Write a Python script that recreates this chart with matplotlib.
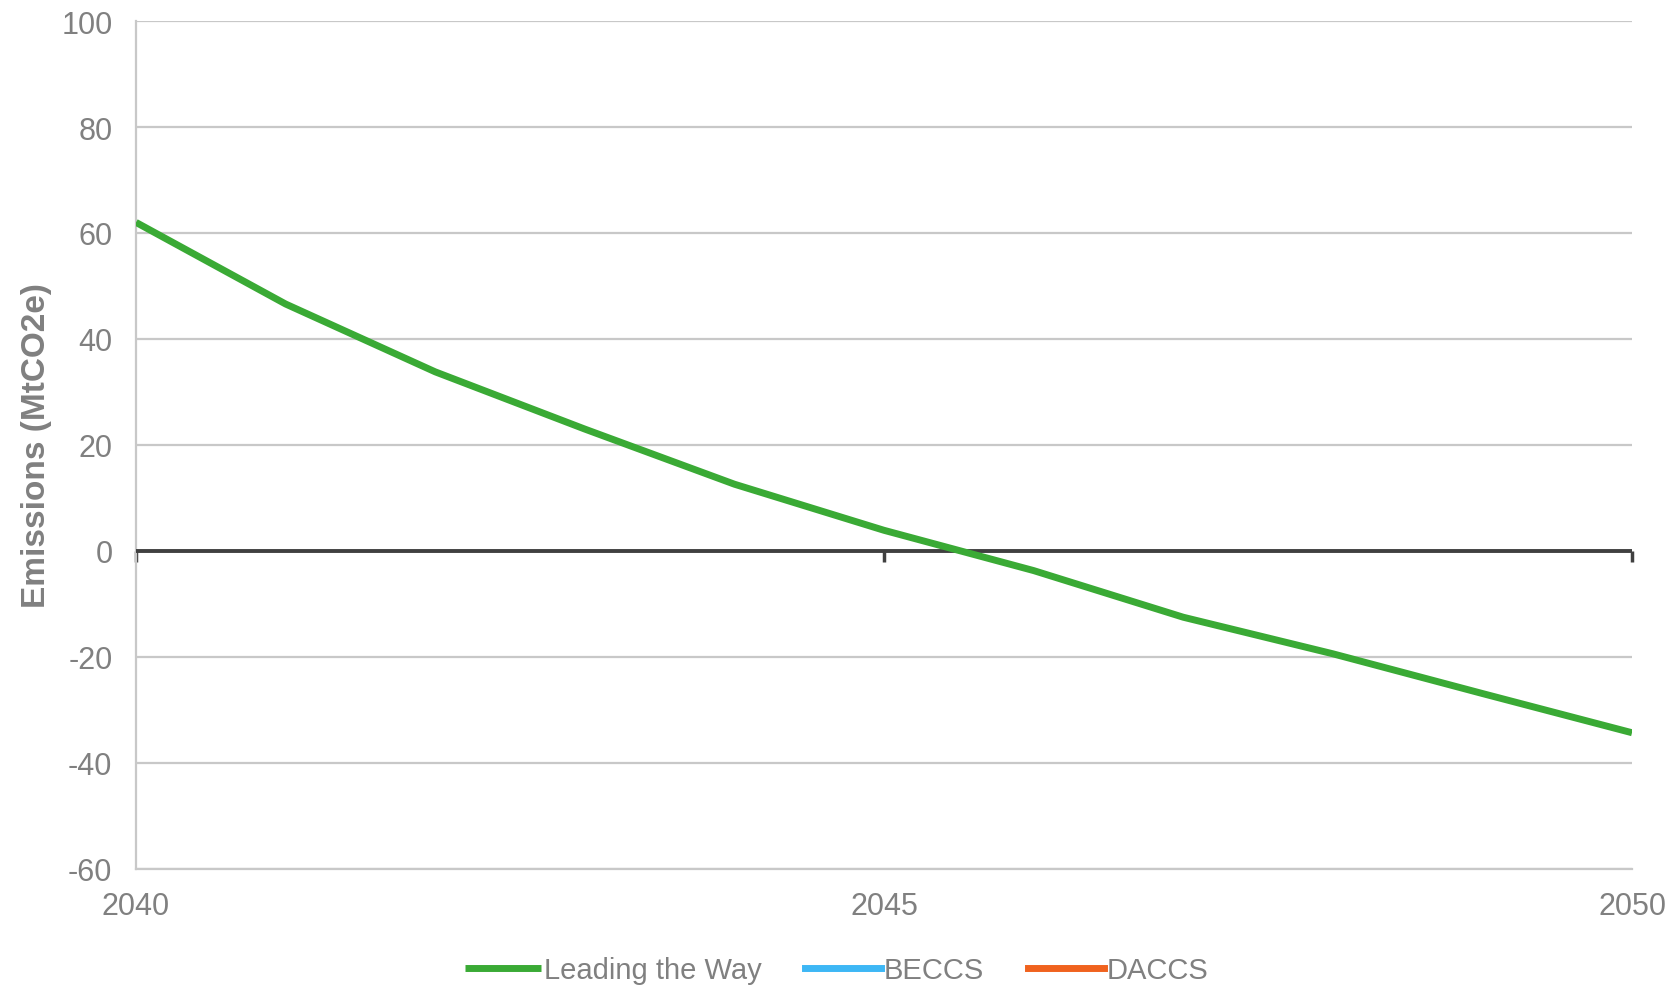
import matplotlib
matplotlib.use("Agg")
import matplotlib.pyplot as plt

years = [2040, 2041, 2042, 2043, 2044, 2045, 2046, 2047, 2048, 2049, 2050]
leading_the_way = [62.0, 46.6, 33.8, 23.0, 12.6, 3.9, -3.7, -12.5, -19.4, -26.9, -34.3]
beccs = []
daccs = []
y_ticks = [-60, -40, -20, 0, 20, 40, 60, 80, 100]
x_ticks = [2040, 2045, 2050]

plt.rcParams['font.family'] = ['Liberation Sans', 'DejaVu Sans']
plt.rcParams['axes.unicode_minus'] = False
gray_txt = '#808080'
grid_c = '#C8C8C8'
dark = '#404040'

fig = plt.figure(figsize=(16.73, 9.87), dpi=100)
ax = fig.add_axes([0.0813, 0.1186, 0.8942, 0.8591])

ax.plot(years, leading_the_way, color='#3AAA35', lw=5, solid_capstyle='butt', label='Leading the Way', zorder=4)
ax.plot(beccs, beccs, color='#3DB7F5', lw=5, label='BECCS')
ax.plot(daccs, daccs, color='#F0621E', lw=5, label='DACCS')
ax.axhline(0, color=dark, lw=2.8, zorder=3)

ax.set_xlim(2040, 2050)
ax.set_ylim(-60, 100)
ax.set_yticks(y_ticks)
ax.set_xticks(x_ticks)
ax.set_xticklabels([str(v) for v in x_ticks])
ax.grid(axis='y', color=grid_c, lw=1.6)
ax.grid(axis='x', visible=False)
ax.set_axisbelow(True)

for s in ['top', 'right']:
    ax.spines[s].set_visible(False)
ax.spines['left'].set_color(grid_c)
ax.spines['left'].set_linewidth(1.6)
ax.spines['bottom'].set_color(grid_c)
ax.spines['bottom'].set_linewidth(1.6)

ax.tick_params(axis='both', length=0, labelsize=22, labelcolor=gray_txt)
ax.tick_params(axis='y', pad=17)
ax.tick_params(axis='x', pad=16)

# tick marks on the zero axis line
sec = ax.secondary_xaxis(60 / 160)
sec.set_xticks(x_ticks)
sec.set_xticklabels([])
sec.tick_params(axis='x', direction='out', length=8, width=2.5, color=dark)
for s in sec.spines.values():
    s.set_visible(False)

ax.set_ylabel('Emissions (MtCO2e)', fontsize=24, fontweight='bold', color=gray_txt)
ax.yaxis.set_label_coords(-0.056, 0.5)

fig.legend(loc='center', bbox_to_anchor=(0.5, 0.016), ncol=3, frameon=False,
           fontsize=21, handlelength=2.6, handletextpad=0.1, columnspacing=1.5,
           labelcolor=gray_txt)

fig.savefig('out.png', dpi=100)
